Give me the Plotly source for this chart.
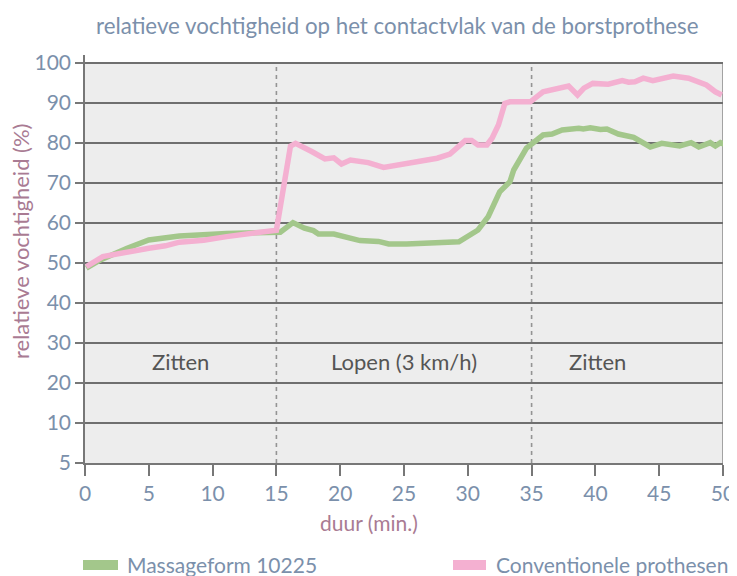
import plotly.graph_objects as go

# Time (minutes) and relative humidity (%) readings
t_green = [0.1, 1.2, 3.3, 5.0, 7.4, 11.1, 15.3, 16.3, 17.2, 17.9, 18.3, 19.5, 21.55, 23.0, 23.8, 25.2,
           29.3, 30.8, 31.6, 32.5, 33.3, 33.6, 34.6, 35.9, 36.6, 37.4, 38.7, 39.05, 39.6, 40.4, 40.9,
           41.8, 43.0, 43.6, 44.3, 45.2, 45.8, 46.6, 47.5, 48.1, 49.0, 49.4, 49.8, 50.1]
rh_green = [48.7, 50.75, 53.7, 55.75, 56.75, 57.4, 57.7, 60.1, 58.7, 58.1, 57.25, 57.25, 55.6, 55.4, 54.75, 54.75,
            55.3, 58.25, 61.6, 67.8, 70.3, 73.25, 78.7, 82.0, 82.25, 83.25, 83.7, 83.5, 83.8, 83.4, 83.5,
            82.25, 81.4, 80.3, 79.0, 79.9, 79.75, 79.25, 80.1, 79.0, 80.1, 79.25, 80.1, 79.7]

t_pink = [0.1, 1.4, 5.0, 6.3, 7.4, 9.3, 11.1, 15.0, 16.1, 16.5, 17.8, 18.8, 19.5, 20.1, 20.8, 22.2, 23.4,
          24.9, 26.3, 27.6, 28.6, 29.8, 30.3, 30.8, 31.5, 31.9, 32.4, 32.9, 33.3, 34.9, 35.9, 36.7, 37.9,
          38.6, 39.1, 39.8, 41.0, 42.1, 42.6, 43.1, 43.75, 44.5, 46.1, 47.3, 48.7, 49.4, 49.9]
rh_pink = [49.1, 51.6, 53.7, 54.3, 55.2, 55.7, 56.6, 58.2, 79.2, 79.9, 77.8, 76.0, 76.3, 74.75, 75.75, 75.1, 73.9,
           74.7, 75.2, 76.2, 77.25, 80.6, 80.6, 79.5, 79.5, 81.2, 84.5, 89.9, 90.3, 90.3, 92.8, 93.5, 94.25,
           92.0, 93.7, 94.9, 94.7, 95.6, 95.2, 95.3, 96.2, 95.6, 96.75, 96.2, 94.5, 92.8, 92.0]

x_ticks = [0, 5, 10, 15, 20, 25, 30, 35, 40, 45, 50]
y_tickvals = [0, 10, 20, 30, 40, 50, 60, 70, 80, 90, 100]
y_ticktext = ["5", "10", "20", "30", "40", "50", "60", "70", "80", "90", "100"]

phase_labels = ["Zitten", "Lopen (3 km/h)", "Zitten"]
phase_x = [7.5, 25.0, 40.2]
phase_bounds = [15, 35]

series_names = ["Massageform 10225", "Conventionele prothesen"]
green = "#a3c78b"
pink = "#f4b0d1"
slate = "#7b90ab"
mauve = "#a97b93"
FONT = "Lato"

fig = go.Figure()
fig.add_trace(go.Scatter(x=t_green, y=rh_green, mode="lines", name=series_names[0],
                         line=dict(color=green, width=5.5), cliponaxis=False))
fig.add_trace(go.Scatter(x=t_pink, y=rh_pink, mode="lines", name=series_names[1],
                         line=dict(color=pink, width=5.5), cliponaxis=False))

OFF = 8  # page body margin
W, H = 737 - OFF, 576 - OFF
L, T = 85 - OFF, 55 - OFF
pw, ph = 638, 408
R, B = W - L - pw, H - T - ph


def px(xp):
    return (xp - OFF - L) / pw


def py(yp):
    return (T + ph - (yp - OFF)) / ph


shapes = []
# soft shadow
for i, a in enumerate([0.035, 0.03, 0.025, 0.02]):
    d = (i + 1) * 0.35
    shapes.append(dict(type="rect", xref="x", yref="y", x0=0.2 * d, x1=50 + d, y0=-d * 1.4, y1=100 - d,
                       fillcolor=f"rgba(0,0,0,{a})", line=dict(width=0), layer="below"))
shapes.append(dict(type="rect", xref="x", yref="y", x0=0, x1=50, y0=0, y1=100,
                   fillcolor="#ededed", line=dict(width=0), layer="below"))
shapes.append(dict(type="line", xref="x", yref="y", x0=50, x1=50, y0=0, y1=100,
                   line=dict(color="#8a8a8a", width=1.5), layer="below"))
for xb in phase_bounds:
    shapes.append(dict(type="line", xref="x", yref="y", x0=xb, x1=xb, y0=0, y1=100,
                       line=dict(color="#949494", width=1.6, dash="4px,4px"), layer="below"))
# legend swatches
shapes.append(dict(type="rect", xref="paper", yref="paper", x0=px(83), x1=px(118), y0=py(570), y1=py(560),
                   fillcolor=green, line=dict(width=0)))
shapes.append(dict(type="rect", xref="paper", yref="paper", x0=px(453), x1=px(486), y0=py(570), y1=py(560),
                   fillcolor=pink, line=dict(width=0)))

annotations = []
for lab, xl in zip(phase_labels, phase_x):
    annotations.append(dict(x=xl, y=25.3, xref="x", yref="y", text=lab, showarrow=False,
                            font=dict(family=FONT, size=22, color="#555555")))
annotations.append(dict(x=px(125), y=py(564), xref="paper", yref="paper", text=series_names[0],
                        showarrow=False, xanchor="left", yanchor="middle",
                        font=dict(family=FONT, size=21, color=slate)))
annotations.append(dict(x=px(494), y=py(564), xref="paper", yref="paper", text=series_names[1],
                        showarrow=False, xanchor="left", yanchor="middle",
                        font=dict(family=FONT, size=21, color=slate)))
annotations.append(dict(x=px(20), y=py(241), xref="paper", yref="paper", text="relatieve vochtigheid (%)",
                        showarrow=False, textangle=-90, xanchor="center", yanchor="middle",
                        font=dict(family=FONT, size=22, color=mauve)))
annotations.append(dict(x=px(369), y=py(522), xref="paper", yref="paper", text="duur (min.)",
                        showarrow=False, xanchor="center", yanchor="middle",
                        font=dict(family=FONT, size=21, color=mauve)))
annotations.append(dict(x=px(397), y=py(25), xref="paper", yref="paper",
                        text="relatieve vochtigheid op het contactvlak van de borstprothese",
                        showarrow=False, xanchor="center", yanchor="middle",
                        font=dict(family=FONT, size=22.3, color=slate)))

fig.update_layout(
    width=W, height=H,
    margin=dict(l=L, r=R, t=T, b=B, pad=0, autoexpand=False),
    paper_bgcolor="white", plot_bgcolor="white",
    showlegend=False,
    shapes=shapes, annotations=annotations,
    xaxis=dict(range=[0, 50], tickvals=x_ticks, showgrid=False, zeroline=False, automargin=False,
               showline=True, linecolor="#777777", linewidth=1.5,
               ticks="outside", ticklen=11, tickcolor="#777777", tickwidth=1.5,
               tickfont=dict(family=FONT, size=21, color=slate)),
    yaxis=dict(range=[0, 102], tickvals=y_tickvals, ticktext=y_ticktext, automargin=False,
               showgrid=True, gridcolor="#6f6f6f", gridwidth=1.5, zeroline=False,
               showline=True, linecolor="#777777", linewidth=1.5,
               ticks="outside", ticklen=8, tickcolor="#777777", tickwidth=1.5,
               tickfont=dict(family=FONT, size=21, color=slate)),
)

fig.write_html("out.html")
